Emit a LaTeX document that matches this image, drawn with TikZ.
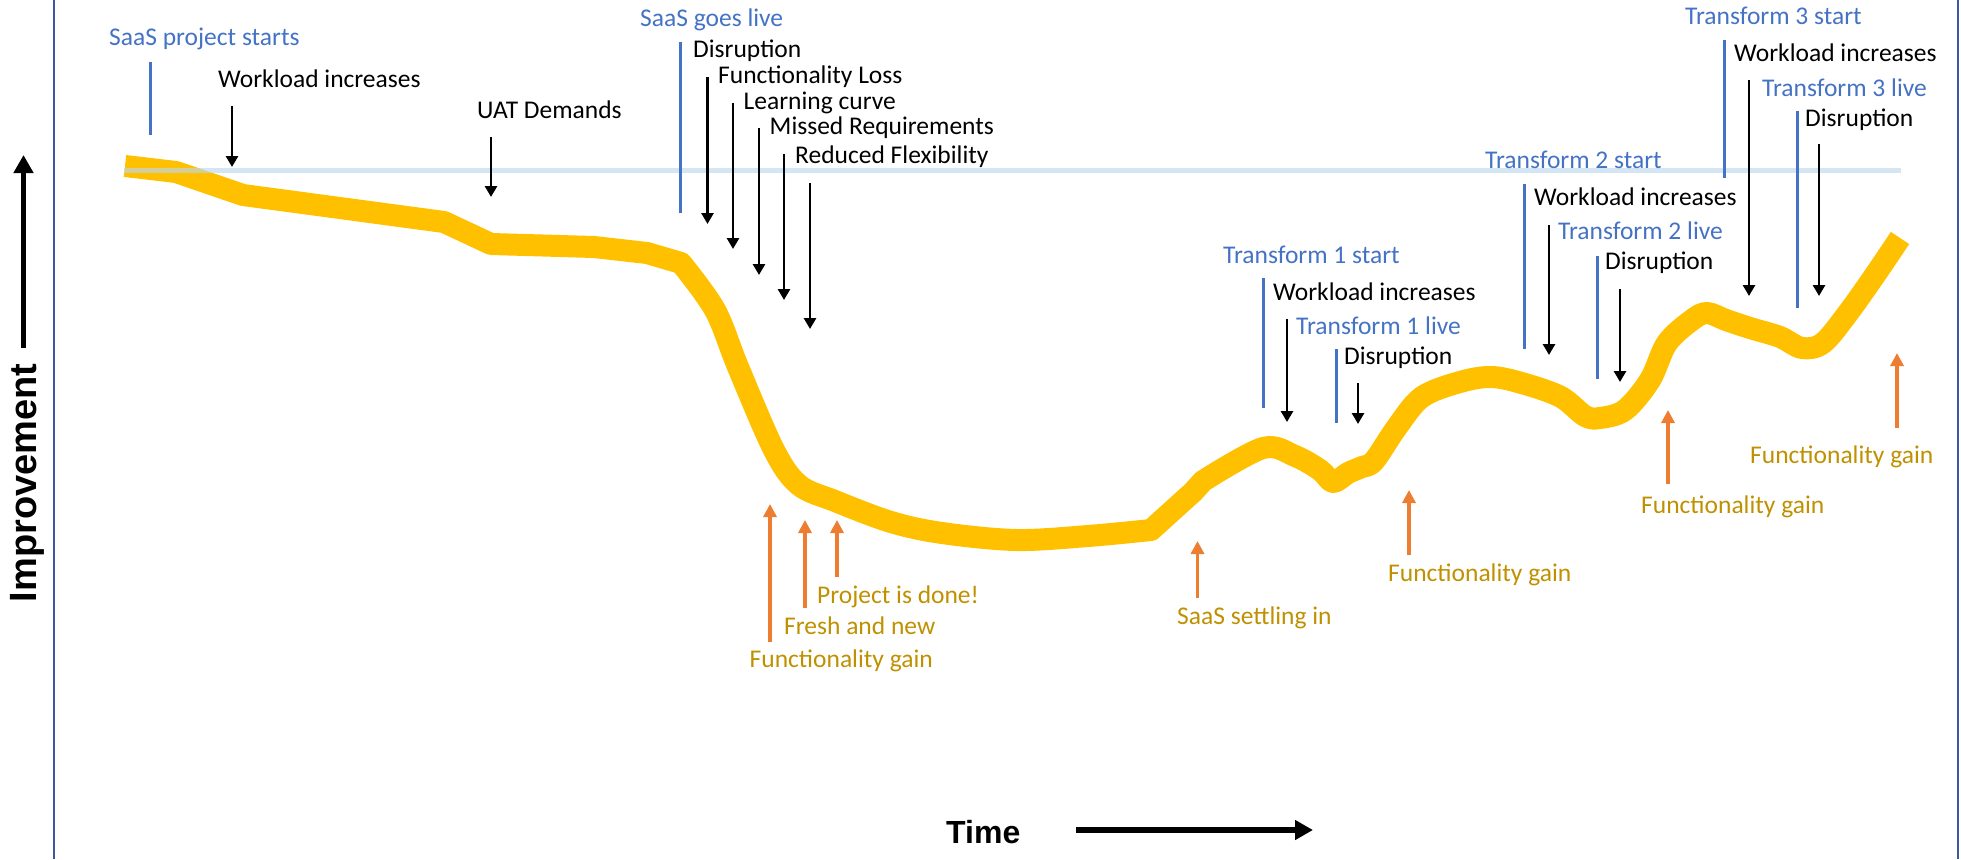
\documentclass[tikz,border=0pt]{standalone}
\usepackage{fontspec}
\setmainfont{Carlito}
\newfontfamily\axisfont{Liberation Sans}
\usetikzlibrary{arrows.meta}

\definecolor{curvegold}{HTML}{FFC000}
\definecolor{tblue}{HTML}{4472C4}
\definecolor{tgold}{HTML}{BF9000}
\definecolor{torange}{HTML}{ED7D31}
\definecolor{frameblue}{RGB}{58,88,158}
\definecolor{refblue}{HTML}{BDD7EE}

% a vertical marker: name, style, x, y of tail, y of head
\newcommand\drawpin[5]{%
  \coordinate (#1-a) at (#3,#4);
  \coordinate (#1-b) at (#3,#5);
  \draw[#2] (#1-a) -- (#1-b);}

\begin{document}
\begin{tikzpicture}[x=1pt,y=-1pt,
  lbl/.style={anchor=base west, inner sep=0pt, font=\fontsize{25.5}{30}\selectfont},
  blk/.style={lbl, text=black},
  blu/.style={lbl, text=tblue},
  gld/.style={lbl, text=tgold},
  mline/.style={draw=tblue, line width=3pt},
  darrow/.style={draw=black, line width=2.8pt, -{Triangle[width=12pt,length=11pt]}},
  uarrow/.style={draw=torange, line width=3.5pt, -{Triangle[width=13pt,length=13pt]}},
  axarrow/.style={draw=black, line width=5.5pt, -{Triangle[width=19pt,length=18pt]}},
  axlabel/.style={inner sep=0pt, font=\axisfont\bfseries\fontsize{38}{42}\selectfont},
  curve/.style={draw=curvegold, line width=22pt, line join=round, line cap=butt},
  refline/.style={draw=refblue, line width=4.7pt, opacity=0.65},
  frameline/.style={draw=frameblue, line width=2pt}]

\useasboundingbox (0,0) rectangle (1961,859);

% side frame
\drawpin{frameL}{frameline}{54}{0}{859}
\drawpin{frameR}{frameline}{1958}{0}{859}

% improvement curve
\draw[curve] (125,166) -- (176,172) -- (243,195) -- (444,222) -- (491,244)
  -- (594,247) -- (647,253)
  -- plot[smooth, tension=0.55] coordinates {(681,263) (715,310) (738,367) (774,450)
    (799,485) (835,501) (891,522) (942,533) (1016,540) (1088,536) (1151,530)}
  -- (1193,492)
  -- plot[smooth, tension=0.55] coordinates {(1203,481) (1263,448) (1295,456) (1320,470)
    (1333,482) (1348,473) (1362,467) (1374,461) (1397,427) (1422,397) (1460,382)
    (1492,377) (1525,384) (1561,397) (1585,416) (1600,418) (1625,410) (1650,380)
    (1667,343) (1692,320) (1707,313) (1726,320) (1750,328) (1780,337) (1802,348)
    (1823,343) (1848,313) (1875,275) (1900,238)};

% reference level
\coordinate (ref-s) at (124,170.5);
\coordinate (ref-e) at (1901,170.5);
\draw[refline] (ref-s) -- (ref-e);

% axes
\drawpin{impax}{axarrow}{23.5}{348}{155}
\node[axlabel, rotate=90, anchor=base] (improvement) at (36,483) {Improvement};
\node[axlabel, anchor=base west, font=\axisfont\bfseries\fontsize{32}{36}\selectfont] (time) at (946,843) {Time};
\coordinate (timeax-a) at (1076,830);
\coordinate (timeax-b) at (1313,830);
\draw[axarrow] (timeax-a) -- (timeax-b);

% project phase
\node[blu] (saasstart) at (109,46) {SaaS project starts};
\drawpin{p1}{mline}{150}{62}{135}
\node[blk] (work0) at (218,88) {Workload increases};
\drawpin{p2}{darrow}{232}{106}{167}
\node[blk] (uat) at (477,118) {UAT Demands};
\drawpin{p3}{darrow}{491}{137}{197}

% go-live
\node[blu] (golive) at (640,27) {SaaS goes live};
\drawpin{g0}{mline}{680}{42}{213}
\node[blk] (disr0) at (693,58) {Disruption};
\drawpin{g1}{darrow}{707.5}{77}{224}
\node[blk] (floss) at (718,83) {Functionality Loss};
\drawpin{g2}{darrow}{733}{103}{249}
\node[blk] (learn) at (743.5,109) {Learning curve};
\drawpin{g3}{darrow}{759}{128}{275}
\node[blk] (missed) at (769.5,134) {Missed Requirements};
\drawpin{g4}{darrow}{784}{154}{300}
\node[blk] (flex) at (795,163) {Reduced Flexibility};
\drawpin{g5}{darrow}{810}{183}{329}

% transform 1
\node[blu] (t1s) at (1223,263) {Transform 1 start};
\drawpin{t1a}{mline}{1263}{278}{408}
\node[blk] (t1w) at (1273,300) {Workload increases};
\drawpin{t1b}{darrow}{1287}{319}{422}
\node[blu] (t1l) at (1296,334) {Transform 1 live};
\drawpin{t1c}{mline}{1336}{349}{423}
\node[blk] (t1d) at (1344,364) {Disruption};
\drawpin{t1e}{darrow}{1358}{383}{424}

% transform 2
\node[blu] (t2s) at (1485,168) {Transform 2 start};
\drawpin{t2a}{mline}{1524}{184}{349}
\node[blk] (t2w) at (1534,205) {Workload increases};
\drawpin{t2b}{darrow}{1549}{225}{355}
\node[blu] (t2l) at (1558,239) {Transform 2 live};
\drawpin{t2c}{mline}{1597}{256}{379}
\node[blk] (t2d) at (1605,269) {Disruption};
\drawpin{t2e}{darrow}{1620}{289}{382}

% transform 3
\node[blu] (t3s) at (1685,25) {Transform 3 start};
\drawpin{t3a}{mline}{1724}{40}{178}
\node[blk] (t3w) at (1734,62) {Workload increases};
\drawpin{t3b}{darrow}{1749}{80}{296}
\node[blu] (t3l) at (1762,96) {Transform 3 live};
\drawpin{t3c}{mline}{1797}{111}{308}
\node[blk] (t3d) at (1805,126) {Disruption};
\drawpin{t3e}{darrow}{1819}{144}{296}

% gains
\drawpin{u1}{uarrow}{770}{642}{504}
\node[gld] (gain0) at (749.5,667) {Functionality gain};
\drawpin{u2}{uarrow}{805}{608}{520}
\node[gld] (fresh) at (784,634) {Fresh and new};
\drawpin{u3}{uarrow}{837}{577}{520}
\node[gld] (done) at (817,603) {Project is done!};
\drawpin{u4}{uarrow}{1197.5}{598}{541}
\node[gld] (settle) at (1177,624) {SaaS settling in};
\drawpin{u5}{uarrow}{1409}{555}{490}
\node[gld] (gain1) at (1388,581) {Functionality gain};
\drawpin{u6}{uarrow}{1668}{484}{410}
\node[gld] (gain2) at (1641,513) {Functionality gain};
\drawpin{u7}{uarrow}{1897}{428}{353}
\node[gld] (gain3) at (1750,463) {Functionality gain};

\end{tikzpicture}
\end{document}
